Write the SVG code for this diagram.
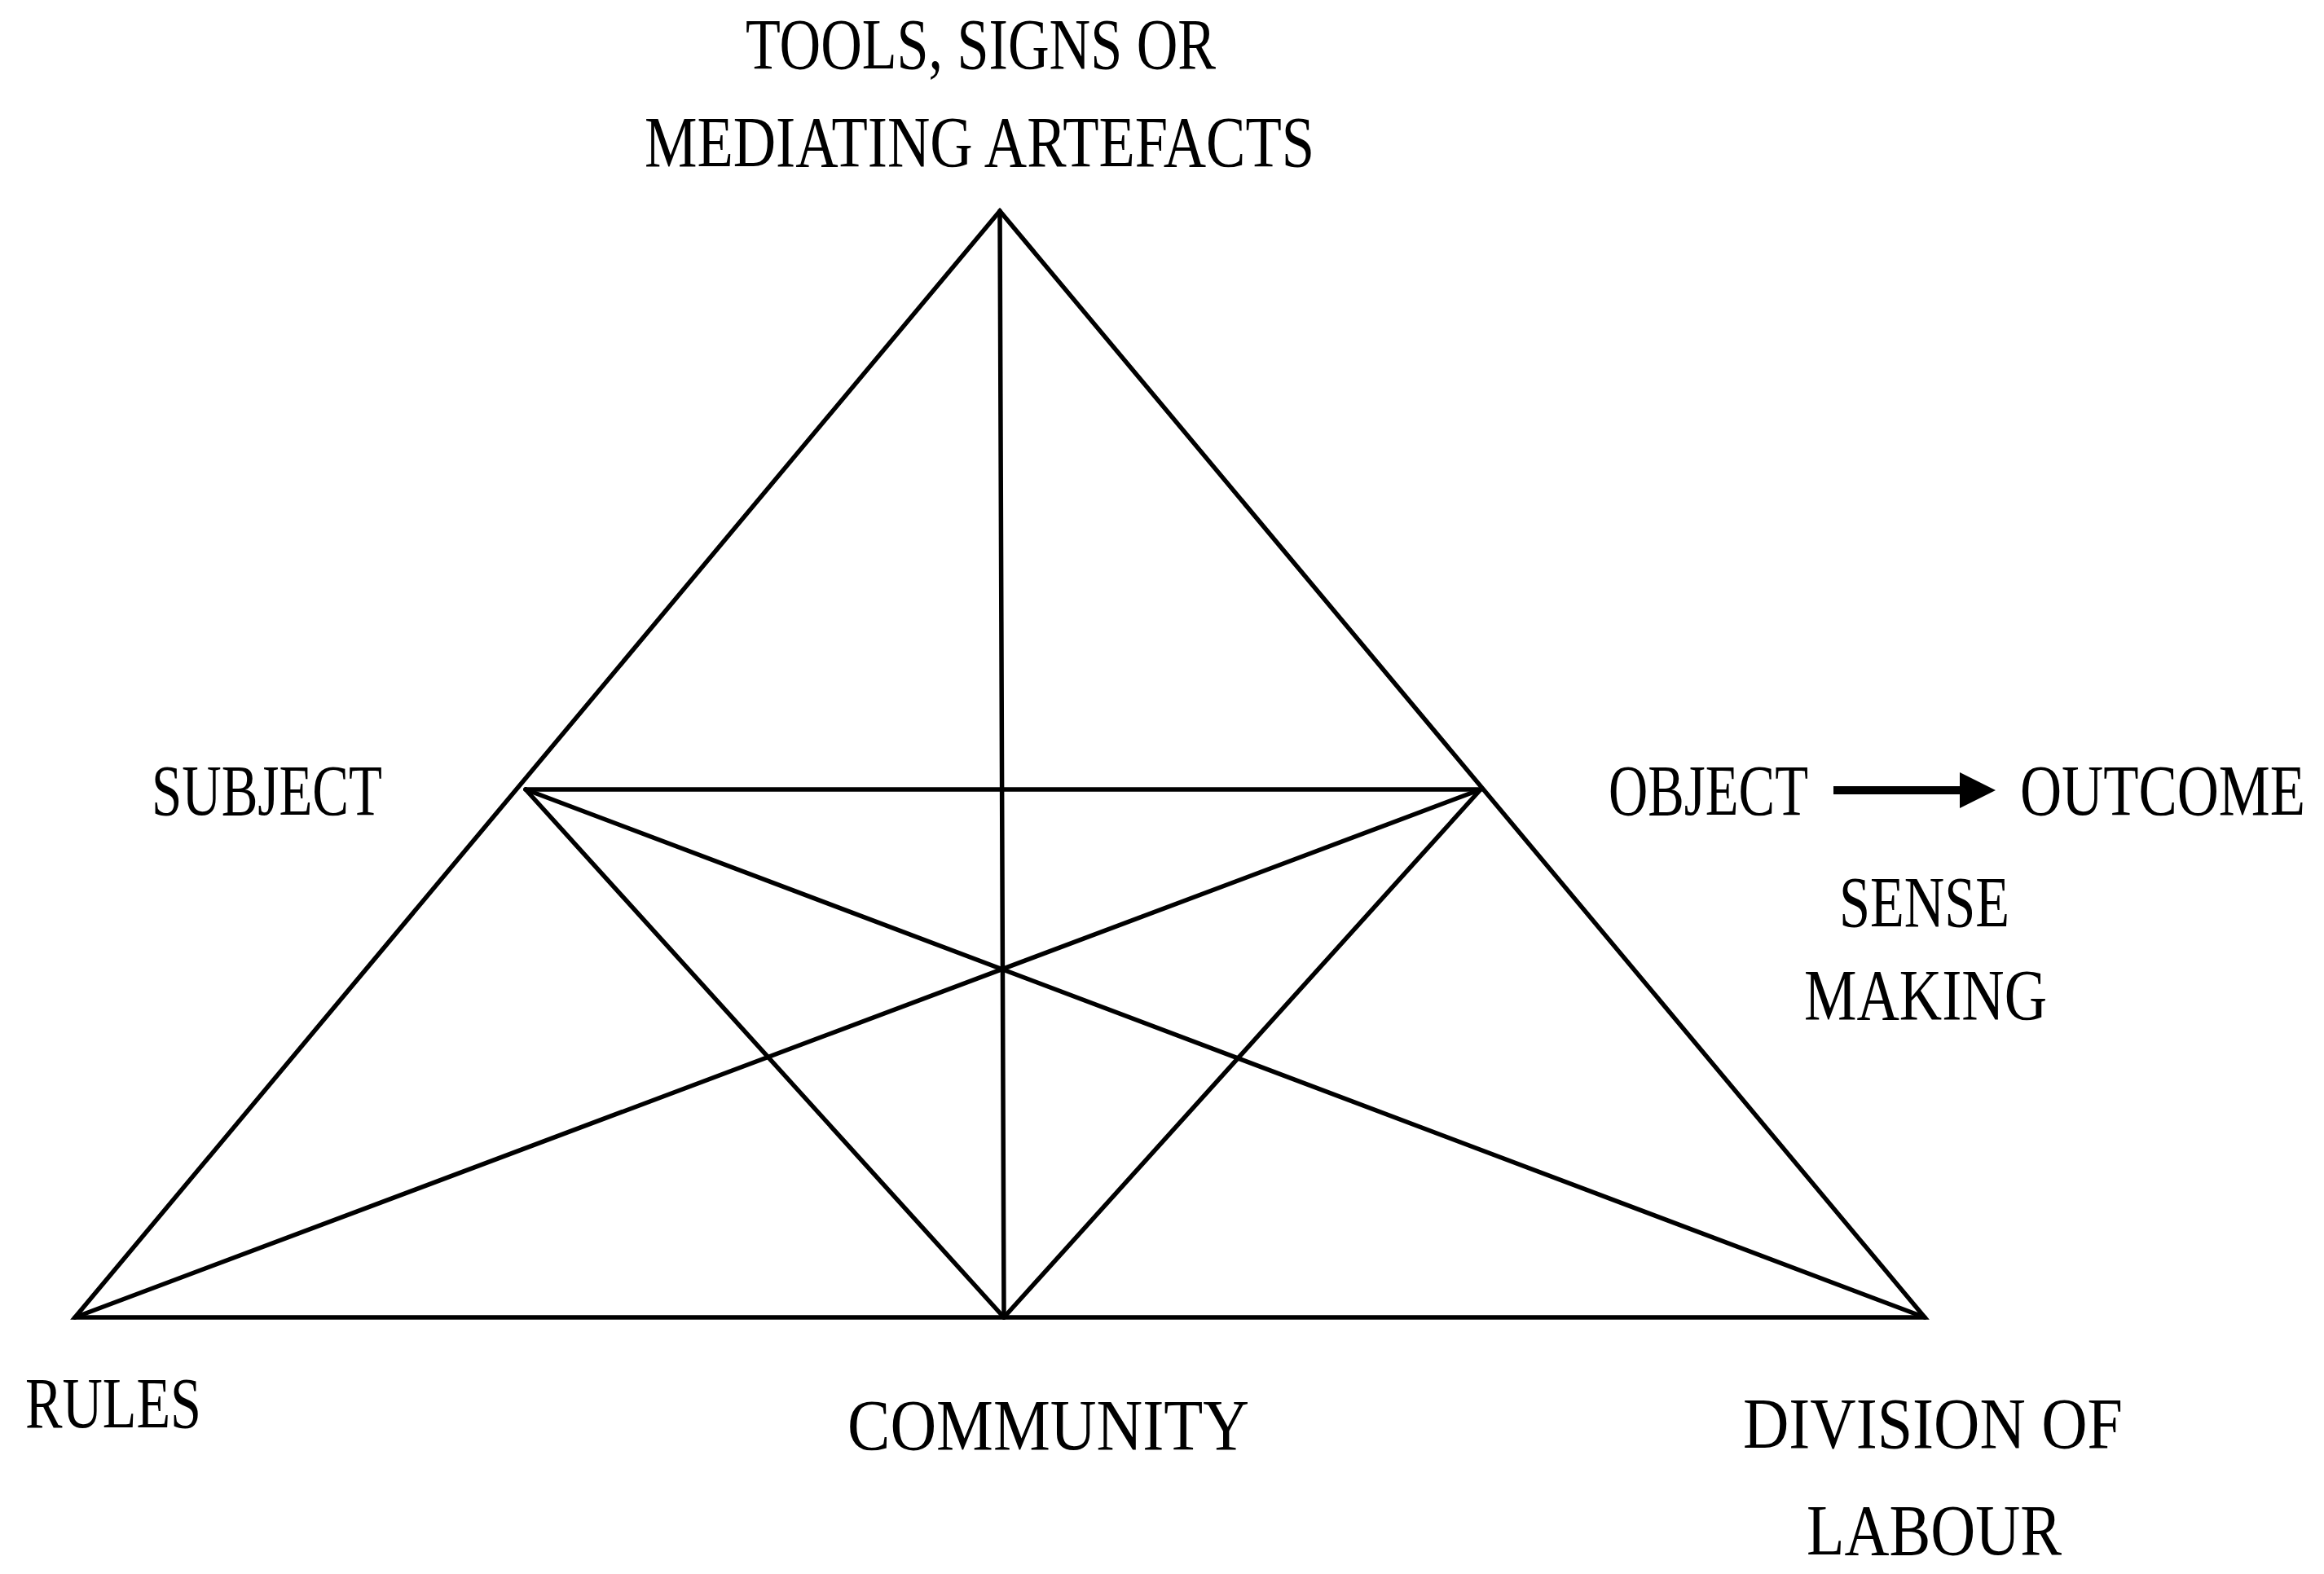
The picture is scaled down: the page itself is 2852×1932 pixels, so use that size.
<svg xmlns="http://www.w3.org/2000/svg" width="2852" height="1932" viewBox="0 0 2852 1932">
<style>
.e{stroke:#000;stroke-width:5.5;fill:none;stroke-linecap:round;stroke-linejoin:miter}
.t{font-family:"Liberation Serif","Times New Roman",serif;font-size:88px;fill:#000}
</style>
<defs>
<marker id="ah" markerWidth="4.4" markerHeight="4.4" refX="0.5" refY="2.2" orient="auto" markerUnits="strokeWidth">
<path d="M0,0 L4.4,2.2 L0,4.4 Z" fill="#000"/>
</marker>
</defs>
<rect width="2852" height="1932" fill="#fff"/>
<g id="connectors">
<polygon class="e" points="92,1617 1227,259 2362,1617"/>
<line class="e" x1="1227" y1="259" x2="1232" y2="1617"/>
<line class="e" x1="645" y1="969" x2="1817" y2="969"/>
<line class="e" x1="645" y1="969" x2="1232" y2="1617"/>
<line class="e" x1="1817" y1="969" x2="1232" y2="1617"/>
<line class="e" x1="645" y1="969" x2="2362" y2="1617"/>
<line class="e" x1="1817" y1="969" x2="92" y2="1617"/>
<line x1="2250" y1="970" x2="2410" y2="970" stroke="#000" stroke-width="10" marker-end="url(#ah)"/>
</g>
<g id="tools"><text class="t" x="915" y="84" textLength="577" lengthAdjust="spacingAndGlyphs">TOOLS, SIGNS OR</text>
<text class="t" x="791" y="204" textLength="822" lengthAdjust="spacingAndGlyphs">MEDIATING ARTEFACTS</text></g>
<g id="subject"><text class="t" x="186" y="1000" textLength="283" lengthAdjust="spacingAndGlyphs">SUBJECT</text></g>
<g id="object"><text class="t" x="1974" y="1000" textLength="245" lengthAdjust="spacingAndGlyphs">OBJECT</text></g>
<g id="outcome"><text class="t" x="2479" y="1000" textLength="350" lengthAdjust="spacingAndGlyphs">OUTCOME</text></g>
<g id="sensemaking"><text class="t" x="2257" y="1137" textLength="209" lengthAdjust="spacingAndGlyphs">SENSE</text>
<text class="t" x="2214" y="1251" textLength="298" lengthAdjust="spacingAndGlyphs">MAKING</text></g>
<g id="rules"><text class="t" x="31" y="1752" textLength="216" lengthAdjust="spacingAndGlyphs">RULES</text></g>
<g id="community"><text class="t" x="1040" y="1779" textLength="493" lengthAdjust="spacingAndGlyphs">COMMUNITY</text></g>
<g id="division"><text class="t" x="2139" y="1777" textLength="466" lengthAdjust="spacingAndGlyphs">DIVISION OF</text>
<text class="t" x="2217" y="1908" textLength="313" lengthAdjust="spacingAndGlyphs">LABOUR</text></g>
</svg>
